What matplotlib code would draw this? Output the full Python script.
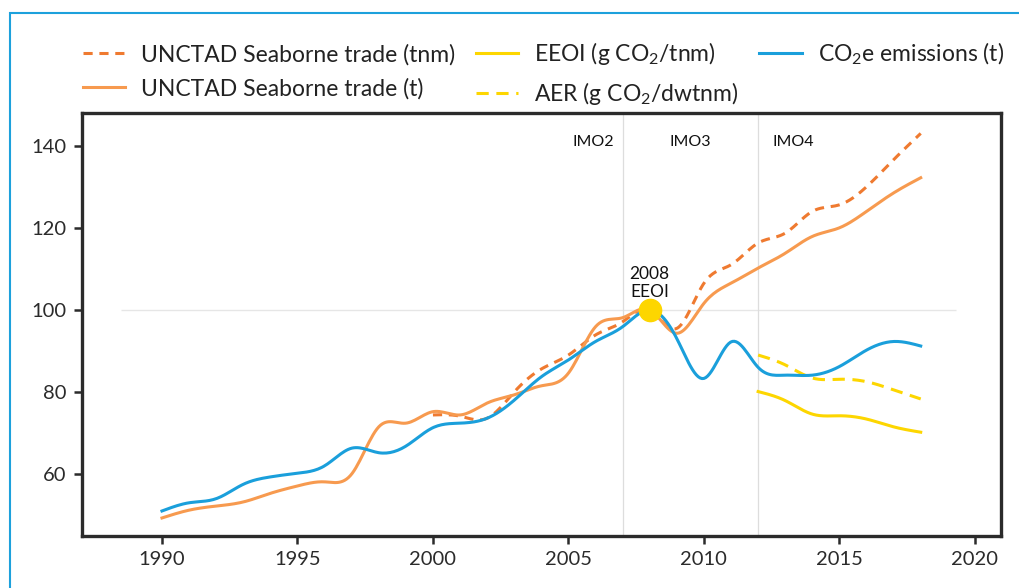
import numpy as np
import matplotlib
matplotlib.use("Agg")
import matplotlib.pyplot as plt
from matplotlib.patches import Rectangle

plt.rcParams['font.family'] = ['Lato', 'DejaVu Sans']
plt.rcParams['mathtext.default'] = 'regular'

# ---- data (index 2008 = 100) ----
years = list(range(1990, 2019))
co2e = [51, 53, 54, 57.5, 59.3, 60.2, 62, 66.3, 65.2, 66.8, 71.3, 72.4, 73.6, 78,
        83.7, 87.8, 92.3, 95.9, 100, 93, 83.3, 92.2, 86, 84.1, 84.1, 86.2, 90.2,
        92.3, 91.2]
trade_t = [49.3, 51.2, 52.2, 53.2, 55.3, 57.1, 58.1, 60, 71.5, 72.4, 75.2, 74.4,
           77.3, 79.3, 81.5, 84.6, 95.9, 98.1, 100, 94.3, 101.6, 106.5, 110.2,
           113.8, 117.9, 120, 124, 128.5, 132.2]
years_tnm = list(range(2000, 2019))
trade_tnm = [74.4, 74.1, 73.6, 80, 85.6, 89, 93.9, 97.1, 100, 95.5, 106.5, 111,
             116.3, 118.7, 124, 125.6, 130, 136.6, 143]
years_imo4 = list(range(2012, 2019))
eeoi = [80.1, 77.9, 74.6, 74.2, 73.4, 71.5, 70.2]
aer = [89, 86.6, 83.4, 83.1, 82.5, 80.5, 78.3]

imo_lines = [2007, 2012]
imo_labels = ['IMO2', 'IMO3', 'IMO4']
imo_label_x = [2005.9, 2009.5, 2013.3]


def smooth(x, y, n=400):
    # natural cubic spline through the points
    x = np.asarray(x, float)
    y = np.asarray(y, float)
    h = np.diff(x)
    k = len(x)
    A = np.zeros((k, k))
    b = np.zeros(k)
    A[0, 0] = A[-1, -1] = 1
    for i in range(1, k - 1):
        A[i, i - 1] = h[i - 1]
        A[i, i] = 2 * (h[i - 1] + h[i])
        A[i, i + 1] = h[i]
        b[i] = 6 * ((y[i + 1] - y[i]) / h[i] - (y[i] - y[i - 1]) / h[i - 1])
    M = np.linalg.solve(A, b)
    t = np.linspace(x[0], x[-1], n)
    idx = np.clip(np.searchsorted(x, t) - 1, 0, k - 2)
    x0, x1 = x[idx], x[idx + 1]
    hh = x1 - x0
    s = (M[idx] * (x1 - t) ** 3 / (6 * hh) + M[idx + 1] * (t - x0) ** 3 / (6 * hh)
         + (y[idx] / hh - M[idx] * hh / 6) * (x1 - t)
         + (y[idx + 1] / hh - M[idx + 1] * hh / 6) * (t - x0))
    return t, s


c_blue = '#1a9fdb'
c_orange = '#f79a4f'
c_orange_d = '#ef7a30'
c_yellow = '#fdd600'

fig = plt.figure(figsize=(10.19, 5.88), dpi=100)
ax = fig.add_axes([0.0805, 0.0884, 0.9015, 0.7196])

ax.hlines(100, 1988.5, 2019.3, color='#e6e6e6', lw=1, zorder=0)
for xv in imo_lines:
    ax.axvline(xv, color='#dddddd', lw=0.9, zorder=0)

ax.plot(*smooth(years_tnm, trade_tnm), color=c_orange_d, lw=2.2, ls=(0, (3, 2.2)),
        label='UNCTAD Seaborne trade (tnm)')
ax.plot(*smooth(years, trade_t), color=c_orange, lw=2.2,
        label='UNCTAD Seaborne trade (t)')
ax.plot(*smooth(years_imo4, eeoi), color=c_yellow, lw=2.2,
        label='EEOI (g CO$_2$/tnm)')
ax.plot(*smooth(years_imo4, aer), color=c_yellow, lw=2.2, ls=(0, (4, 2.5)),
        label='AER (g CO$_2$/dwtnm)')
ax.plot(*smooth(years, co2e), color=c_blue, lw=2.2,
        label='CO$_2$e emissions (t)')
ax.plot([2008], [100], 'o', color=c_yellow, ms=16, zorder=5)

ax.text(2008, 106.5, '2008\nEEOI', ha='center', va='center', fontsize=12.5,
        color='#111111', linespacing=1.15)
for lx, lab in zip(imo_label_x, imo_labels):
    ax.text(lx, 141, lab, ha='center', va='center', fontsize=11.5, color='#111111')

ax.set_xlim(1987.05, 2020.95)
ax.set_ylim(44.9, 148)
ax.set_xticks(range(1990, 2021, 5))
ax.set_yticks(range(60, 141, 20))
for sp in ax.spines.values():
    sp.set_linewidth(2.4)
    sp.set_color('#2b2b2b')
ax.tick_params(length=6, width=1.8, color='#2b2b2b', labelsize=14.5,
               labelcolor='#2b2b2b', pad=5)

fig.legend(loc='upper left', bbox_to_anchor=(0.072, 0.947), ncol=3, frameon=False,
           fontsize=16.5, handlelength=1.85, handletextpad=0.7, columnspacing=0.9,
           labelspacing=0.55, borderaxespad=0, labelcolor='#222222')

fig.add_artist(Rectangle((10 / 1019, -0.1), 1.2, 1.078, transform=fig.transFigure,
                         fill=False, ec='#1da1dc', lw=1.5))

fig.savefig('out.png', dpi=100)
